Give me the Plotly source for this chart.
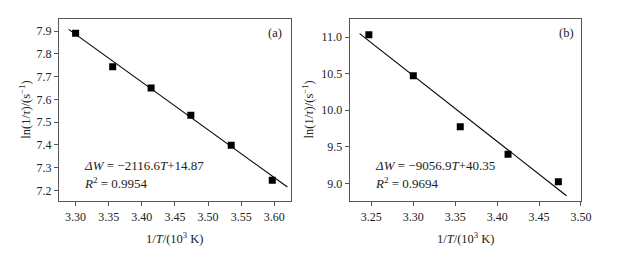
import plotly.graph_objects as go

# Panel (a)
a_x = [3.300, 3.356, 3.414, 3.474, 3.535, 3.597]
a_y = [7.890, 7.743, 7.650, 7.530, 7.398, 7.244]
a_fit_x = [3.2896, 3.6198]
a_fit_y = [7.9075, 7.2145]
a_xticks = [3.30, 3.35, 3.40, 3.45, 3.50, 3.55, 3.60]
a_yticks = [7.2, 7.3, 7.4, 7.5, 7.6, 7.7, 7.8, 7.9]

# Panel (b)
b_x = [3.247, 3.300, 3.356, 3.413, 3.473]
b_y = [11.036, 10.474, 9.775, 9.397, 9.022]
b_fit_x = [3.236, 3.4827]
b_fit_y = [11.05, 8.83]
b_xticks = [3.25, 3.30, 3.35, 3.40, 3.45, 3.50]
b_yticks = [9.0, 9.5, 10.0, 10.5, 11.0]

OFF = 8  # page body margin
W, H = 619 - OFF, 254 - OFF
FONT = "Liberation Serif, Times New Roman, serif"
FRAME = "#555555"

fig = go.Figure()

marker = dict(symbol="square", size=7, color="black")
line = dict(color="black", width=1.1)

fig.add_trace(go.Scatter(x=a_fit_x, y=a_fit_y, mode="lines", line=line, xaxis="x", yaxis="y", showlegend=False))
fig.add_trace(go.Scatter(x=a_x, y=a_y, mode="markers", marker=marker, xaxis="x", yaxis="y", showlegend=False))
fig.add_trace(go.Scatter(x=b_fit_x, y=b_fit_y, mode="lines", line=line, xaxis="x2", yaxis="y2", showlegend=False))
fig.add_trace(go.Scatter(x=b_x, y=b_y, mode="markers", marker=marker, xaxis="x2", yaxis="y2", showlegend=False))


def px(v):
    return (v - OFF) / W


def py(v):
    return 1 - (v - OFF) / H


axis_common = dict(
    showline=True, linecolor=FRAME, linewidth=1.4, mirror=True,
    ticks="outside", ticklen=4, tickwidth=1, tickcolor=FRAME,
    showgrid=False, zeroline=False,
    tickfont=dict(family=FONT, size=12, color="#222222"),
)

ya_top, ya_bot = 19, 201
fig.update_layout(
    width=W, height=H,
    margin=dict(l=0, r=0, t=0, b=0),
    paper_bgcolor="white", plot_bgcolor="white",
    xaxis=dict(domain=[px(60), px(296)], range=[3.275, 3.625], tickvals=a_xticks,
               ticktext=[f"{v:.2f}" for v in a_xticks], anchor="y", **axis_common),
    yaxis=dict(domain=[py(ya_bot), py(ya_top)], range=[7.153, 7.953], tickvals=a_yticks,
               ticktext=[f"{v:.1f}" for v in a_yticks], anchor="x", **axis_common),
    xaxis2=dict(domain=[px(356), px(591.5)], range=[3.2242, 3.5], tickvals=b_xticks,
                ticktext=[f"{v:.2f}" for v in b_xticks], anchor="y2", **axis_common),
    yaxis2=dict(domain=[py(ya_bot), py(ya_top)], range=[8.758, 11.25], tickvals=b_yticks,
                ticktext=[f"{v:.1f}" for v in b_yticks], anchor="x2", **axis_common),
)

tfont = dict(family=FONT, size=12.5, color="#222222")
efont = dict(family=FONT, size=13, color="#222222")
xtitle = "1/<i>T</i>/(10<sup>3</sup> K)"
ytitle = "ln(1/<i>τ</i>)/(s<sup>−1</sup>)"

anns = [
    dict(x=px(178), y=py(238), text=xtitle, font=tfont),
    dict(x=px(474), y=py(238), text=xtitle, font=tfont),
    dict(x=px(25), y=py(110), text=ytitle, textangle=-90, font=tfont),
    dict(x=px(313), y=py(110), text=ytitle, textangle=-90, font=tfont),
    dict(x=px(280), y=py(33), text="(a)", font=tfont),
    dict(x=px(577), y=py(33), text="(b)", font=tfont),
    dict(x=px(83), y=py(165), text="<i>ΔW</i> = −2116.6<i>T</i>+14.87", xanchor="left", font=efont),
    dict(x=px(83), y=py(183), text="<i>R</i><sup>2</sup> = 0.9954", xanchor="left", font=efont),
    dict(x=px(380), y=py(165), text="<i>ΔW</i> = −9056.9<i>T</i>+40.35", xanchor="left", font=efont),
    dict(x=px(380), y=py(183), text="<i>R</i><sup>2</sup> = 0.9694", xanchor="left", font=efont),
]
for a in anns:
    a.setdefault("xanchor", "center")
    fig.add_annotation(xref="paper", yref="paper", yanchor="middle", showarrow=False, **a)

fig.write_html("out.html")
